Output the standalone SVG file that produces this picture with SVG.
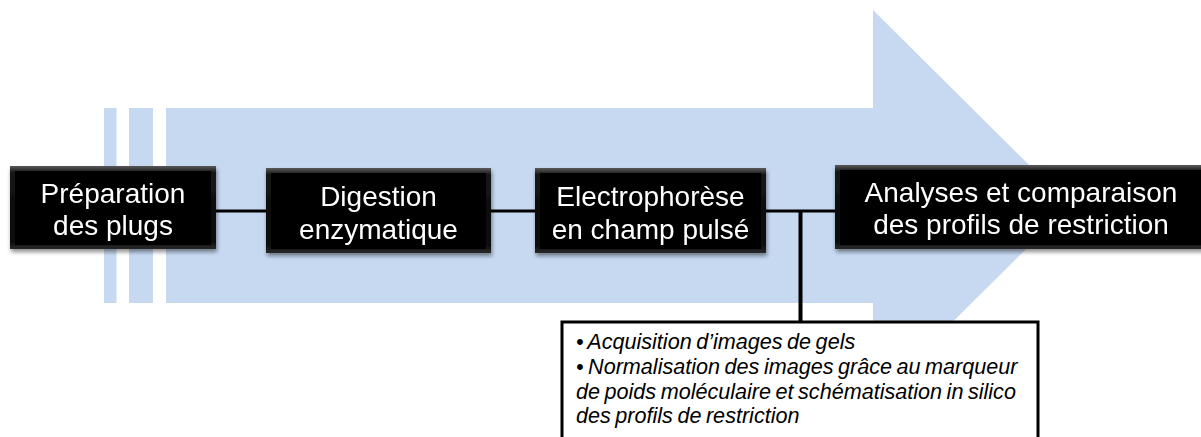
<svg xmlns="http://www.w3.org/2000/svg" width="1201" height="437" viewBox="0 0 1201 437">
<defs>
<linearGradient id="bevel" x1="0" y1="0" x2="0" y2="1">
<stop offset="0" stop-color="#5a5a5a"/>
<stop offset="0.08" stop-color="#151515"/>
<stop offset="0.9" stop-color="#0a0a0a"/>
<stop offset="1" stop-color="#2a2a2a"/>
</linearGradient>
<filter id="sh" x="-10%" y="-10%" width="130%" height="140%">
<feGaussianBlur in="SourceAlpha" stdDeviation="2"/>
<feOffset dx="1" dy="3" result="b"/>
<feComponentTransfer><feFuncA type="linear" slope="0.45"/></feComponentTransfer>
<feMerge><feMergeNode/><feMergeNode in="SourceGraphic"/></feMerge>
</filter>
</defs>
<style>
.bg{fill:#c6d9f1}
.outer{fill:url(#bevel)}
.inner{fill:#000}
.lbl{font-family:"Liberation Sans",Arial,sans-serif;font-size:28px;fill:#fff;text-anchor:middle}
.conn{stroke:#000;stroke-width:3;fill:none}
.note{font-family:"Liberation Sans",Arial,sans-serif;font-size:21.6px;font-style:italic;fill:#000;word-spacing:-1.5px}
</style>
<g id="background-arrow">
<rect class="bg" x="104" y="108" width="12.5" height="195"/>
<rect class="bg" x="129" y="108" width="24" height="195"/>
<polygon class="bg" points="166,108 873,108 873,10 1070,205.5 873,401 873,303 166,303"/>
</g>
<g id="connectors">
<line class="conn" x1="216" y1="211" x2="266" y2="211"/>
<line class="conn" x1="491" y1="211" x2="535" y2="211"/>
<line class="conn" x1="766" y1="211" x2="835" y2="211"/>
<line class="conn" x1="800.5" y1="211" x2="800.5" y2="322" style="stroke-width:4"/>
</g>
<g id="node-preparation" filter="url(#sh)">
<rect class="outer" x="10" y="166" width="206" height="83"/>
<rect class="inner" x="15" y="171" width="196" height="74"/>
<text class="lbl" x="113" y="203">Préparation</text>
<text class="lbl" x="113" y="235">des plugs</text>
</g>
<g id="node-digestion" filter="url(#sh)">
<rect class="outer" x="266" y="168" width="225" height="85"/>
<rect class="inner" x="271" y="173" width="215" height="76"/>
<text class="lbl" x="378.5" y="206">Digestion</text>
<text class="lbl" x="378.5" y="239">enzymatique</text>
</g>
<g id="node-electrophorese" filter="url(#sh)">
<rect class="outer" x="535" y="168" width="231" height="85"/>
<rect class="inner" x="540" y="173" width="221" height="76"/>
<text class="lbl" x="650.5" y="206">Electrophorèse</text>
<text class="lbl" x="650.5" y="239">en champ pulsé</text>
</g>
<g id="node-analyses" filter="url(#sh)">
<rect class="outer" x="835" y="165" width="372" height="84"/>
<rect class="inner" x="840" y="170" width="362" height="75"/>
<text class="lbl" x="1021" y="202">Analyses et comparaison</text>
<text class="lbl" x="1021" y="234">des profils de restriction</text>
</g>
<g id="note">
<rect x="562" y="322" width="476" height="130" fill="#fff" stroke="#000" stroke-width="3"/>
<text class="note" x="576" y="349">• Acquisition d’images de gels</text>
<text class="note" x="576" y="374">• Normalisation des images grâce au marqueur</text>
<text class="note" x="576" y="398.5">de poids moléculaire et schématisation in silico</text>
<text class="note" x="576" y="423">des profils de restriction</text>
</g>
</svg>
